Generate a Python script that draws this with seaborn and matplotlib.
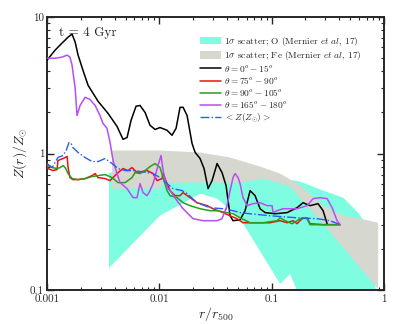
import numpy as np
import matplotlib
matplotlib.use("Agg")
import matplotlib.pyplot as plt
import seaborn as sns

# ------------------------------
# Values
# ------------------------------
# 1 sigma scatter, Fe (grey band, drawn on top of the O band)
r_fe_up = [0.00379, 0.0101, 0.0230, 0.0426, 0.0789, 0.119, 0.179, 0.287, 0.433, 0.612, 0.885]
z_fe_up = [1.052, 1.052, 1.017, 0.935, 0.802, 0.713, 0.582, 0.415, 0.350, 0.333, 0.311]
r_fe_lo = [0.00379, 0.0101, 0.0108, 0.0523, 0.0838, 0.146, 0.287, 0.885]
z_fe_lo = [0.553, 0.553, 0.612, 0.612, 0.655, 0.572, 0.306, 0.1016]

# 1 sigma scatter, O (cyan band)
r_o_up = [0.00356, 0.0523, 0.146, 0.179, 0.287, 0.433, 0.588, 0.679, 0.885]
z_o_up = [0.725, 0.725, 0.640, 0.623, 0.535, 0.475, 0.369, 0.311, 0.08]
r_o_lo = [0.00356, 0.0101, 0.0230, 0.0327, 0.0523, 0.119, 0.146, 0.187, 0.885]
z_o_lo = [0.145, 0.350, 0.508, 0.467, 0.333, 0.111, 0.131, 0.08, 0.08]

# theta = 0 - 15 deg
r_t0 = [0.001, 0.00118, 0.00136, 0.00154, 0.00167, 0.00178, 0.00189, 0.00209, 0.00232,
        0.00285, 0.00349, 0.0042, 0.00475, 0.00516, 0.0056, 0.0062, 0.00673, 0.00746,
        0.00826, 0.00916, 0.01014, 0.01171, 0.01297, 0.01409, 0.01528, 0.01626, 0.01765,
        0.01955, 0.0208, 0.02303, 0.025, 0.02716, 0.02946, 0.03266, 0.03615, 0.03926,
        0.04093, 0.04262, 0.04529, 0.05232, 0.05796, 0.06427, 0.07117, 0.07889, 0.0873,
        0.1072, 0.1371, 0.1683, 0.1904, 0.2198, 0.2588, 0.287, 0.3114]
z_t0 = [4.83, 5.72, 6.44, 7.12, 7.50, 6.55, 5.26, 4.07, 3.16,
        2.41, 1.97, 1.58, 1.27, 1.31, 1.75, 2.22, 2.25, 2.00,
        1.61, 1.50, 1.55, 1.48, 1.36, 1.53, 2.18, 2.18, 1.90,
        1.185, 1.02, 0.92, 0.776, 0.553, 0.633, 0.844, 0.725, 0.582,
        0.451, 0.350, 0.322, 0.327, 0.381, 0.535, 0.491, 0.394, 0.369,
        0.362, 0.369, 0.401, 0.436, 0.415, 0.429, 0.381, 0.306]

# theta = 75 - 90 deg
r_t75 = [0.001, 0.00102, 0.00113, 0.00123, 0.00125, 0.00139, 0.00151, 0.00154, 0.0016,
         0.0017, 0.00189, 0.00218, 0.00252, 0.00268, 0.00285, 0.00329, 0.00364, 0.0042,
         0.00475, 0.00526, 0.00571, 0.00633, 0.00777, 0.00879, 0.00954, 0.01057, 0.0108,
         0.01171, 0.01245, 0.0138, 0.01528, 0.01626, 0.01876, 0.02166, 0.0266, 0.03008,
         0.0369, 0.04262, 0.0492, 0.05559, 0.07413, 0.09676, 0.1188, 0.1371, 0.1551,
         0.1683, 0.1866, 0.2066, 0.2198, 0.287, 0.4064]
z_t75 = [0.816, 0.776, 0.750, 0.763, 0.888, 0.919, 0.951, 0.789, 0.666,
         0.644, 0.644, 0.655, 0.689, 0.713, 0.666, 0.655, 0.633, 0.713,
         0.776, 0.750, 0.789, 0.725, 0.750, 0.713, 0.633, 0.655, 0.713,
         0.602, 0.535, 0.491, 0.491, 0.517, 0.475, 0.436, 0.415, 0.394,
         0.369, 0.350, 0.333, 0.311, 0.311, 0.311, 0.322, 0.311, 0.322,
         0.306, 0.333, 0.338, 0.306, 0.301, 0.301]

# theta = 90 - 105 deg
r_t90 = [0.001, 0.00102, 0.00111, 0.00123, 0.00131, 0.00139, 0.00145, 0.00154, 0.00167,
         0.00189, 0.00218, 0.00252, 0.00285, 0.00329, 0.00379, 0.00429, 0.00495, 0.00571,
         0.00608, 0.00673, 0.00746, 0.00826, 0.00916, 0.01014, 0.0108, 0.01171, 0.01245,
         0.01438, 0.01626, 0.01876, 0.02303, 0.02829, 0.03266, 0.04008, 0.04529, 0.05232,
         0.06427, 0.08383, 0.1117, 0.1188, 0.1316, 0.1519, 0.1683, 0.1866, 0.2066, 0.2198,
         0.4064]
z_t90 = [0.844, 0.816, 0.789, 0.776, 0.789, 0.816, 0.789, 0.713, 0.655,
         0.644, 0.655, 0.678, 0.689, 0.701, 0.666, 0.612, 0.612, 0.666,
         0.725, 0.713, 0.750, 0.802, 0.844, 0.789, 0.666, 0.535, 0.491,
         0.475, 0.436, 0.415, 0.394, 0.381, 0.381, 0.369, 0.362, 0.338,
         0.311, 0.311, 0.322, 0.338, 0.322, 0.306, 0.322, 0.338, 0.333, 0.301,
         0.301]

# theta = 165 - 180 deg
r_t165 = [0.001, 0.00118, 0.00136, 0.00151, 0.0016, 0.00167, 0.00178, 0.00185, 0.00197,
          0.00218, 0.00241, 0.00268, 0.00296, 0.00315, 0.00342, 0.00364, 0.00387, 0.0042,
          0.00447, 0.00516, 0.00583, 0.00633, 0.00673, 0.00716, 0.00777, 0.00826, 0.00879,
          0.00973, 0.01035, 0.0108, 0.01171, 0.01245, 0.01438, 0.01626, 0.01995, 0.02449,
          0.03266, 0.03615, 0.04008, 0.04262, 0.04529, 0.04721, 0.05023, 0.05232, 0.05559,
          0.06039, 0.06829, 0.07889, 0.091, 0.1008, 0.1029, 0.1117, 0.1263, 0.1683,
          0.2066, 0.2337, 0.2698, 0.3114, 0.345, 0.3823, 0.4064]
z_t165 = [4.99, 4.99, 5.08, 5.26, 5.08, 4.44, 3.01, 1.90, 2.25,
          2.58, 2.49, 2.25, 1.90, 1.66, 1.53, 1.205, 0.888, 0.713,
          0.612, 0.553, 0.475, 0.475, 0.602, 0.517, 0.491, 0.535, 0.602,
          0.816, 0.967, 0.750, 0.562, 0.535, 0.451, 0.394, 0.333, 0.322,
          0.322, 0.333, 0.415, 0.535, 0.666, 0.713, 0.666, 0.602, 0.475,
          0.415, 0.429, 0.436, 0.415, 0.415, 0.369, 0.381, 0.394, 0.394,
          0.415, 0.467, 0.475, 0.467, 0.401, 0.322, 0.301]

# <Z(Z_sun)>
r_mean = [0.001, 0.00111, 0.00125, 0.00139, 0.00148, 0.00157, 0.00164, 0.0017, 0.00189,
          0.00218, 0.00252, 0.00285, 0.00329, 0.00379, 0.00429, 0.00495, 0.00583, 0.00673,
          0.00777, 0.00879, 0.01014, 0.01171, 0.01324, 0.01592, 0.01765, 0.02166, 0.02829,
          0.0369, 0.04529, 0.05232, 0.06427, 0.09676, 0.1683, 0.2535, 0.3311, 0.4064]
z_mean = [0.844, 0.789, 0.935, 0.967, 1.052, 1.205, 1.185, 1.107, 1.017,
          0.935, 0.873, 0.873, 0.919, 0.844, 0.776, 0.750, 0.750, 0.738,
          0.725, 0.713, 0.666, 0.602, 0.553, 0.535, 0.508, 0.436, 0.401,
          0.394, 0.381, 0.369, 0.362, 0.350, 0.338, 0.333, 0.322, 0.301]

# ------------------------------
# Style
# ------------------------------
sns.set_style("ticks")
plt.rcParams["font.family"] = ["cmr10", "DejaVu Serif"]
plt.rcParams["mathtext.fontset"] = "cm"
plt.rcParams["axes.unicode_minus"] = False

fig = plt.figure(figsize=(4.15, 3.24), dpi=100)
ax = fig.add_axes([0.1133, 0.1049, 0.8120, 0.8426])

# scatter bands (O below, Fe on top)
ax.fill(np.r_[r_o_up, r_o_lo[::-1]], np.r_[z_o_up, z_o_lo[::-1]],
        color="#7ffde0", lw=0, label=r"1$\sigma$ scatter; O (Mernier $et\ al$, 17)", zorder=1)
ax.fill(np.r_[r_fe_up, r_fe_lo[::-1]], np.r_[z_fe_up, z_fe_lo[::-1]],
        color="#d6d7cf", lw=0, label=r"1$\sigma$ scatter; Fe (Mernier $et\ al$, 17)", zorder=2)

lw = 1.1
sns.lineplot(x=r_t0, y=z_t0, color="black", lw=lw, ax=ax, sort=False, estimator=None,
             label=r"$\theta = 0^o - 15^o$", zorder=3)
sns.lineplot(x=r_t75, y=z_t75, color="#ee1111", lw=lw, ax=ax, sort=False, estimator=None,
             label=r"$\theta = 75^o - 90^o$", zorder=3)
sns.lineplot(x=r_t90, y=z_t90, color="#2a9d1e", lw=lw, ax=ax, sort=False, estimator=None,
             label=r"$\theta = 90^o - 105^o$", zorder=3)
sns.lineplot(x=r_t165, y=z_t165, color="#b84df2", lw=lw, ax=ax, sort=False, estimator=None,
             label=r"$\theta = 165^o - 180^o$", zorder=3)
sns.lineplot(x=r_mean, y=z_mean, color="#2d5cf5", lw=1.0, ls="-.", ax=ax, sort=False,
             estimator=None, label=r"$<Z(Z_{\odot})>$", zorder=3)

ax.set_xscale("log")
ax.set_yscale("log")
ax.set_xlim(0.001, 1)
ax.set_ylim(0.1, 10)

ax.set_xticks([0.001, 0.01, 0.1, 1])
ax.set_xticklabels(["0.001", "0.01", "0.1", "1"])
ax.set_yticks([0.1, 1, 10])
ax.set_yticklabels(["0.1", "1", "10"])
ax.tick_params(which="both", direction="in", top=True, right=True, labelsize=8, pad=2)
ax.tick_params(axis="x", pad=3)
ax.tick_params(which="major", length=5, width=1)
ax.tick_params(which="minor", length=2.5, width=0.8)
for s in ax.spines.values():
    s.set_linewidth(1.4)

ax.set_xlabel(r"$r/r_{500}$", fontsize=10, labelpad=1)
ax.set_ylabel(r"$Z(r)/Z_{\odot}$", fontsize=10, labelpad=1)
ax.text(0.035, 0.965, "t = 4 Gyr", transform=ax.transAxes, fontsize=9.5, va="top", ha="left")

ax.legend(loc="upper left", bbox_to_anchor=(0.455, 0.935), frameon=False, fontsize=6.8,
          handlelength=2.2, handleheight=0.9, handletextpad=0.3, labelspacing=0.12,
          borderaxespad=0, borderpad=0)

fig.savefig("out.png", dpi=100)
